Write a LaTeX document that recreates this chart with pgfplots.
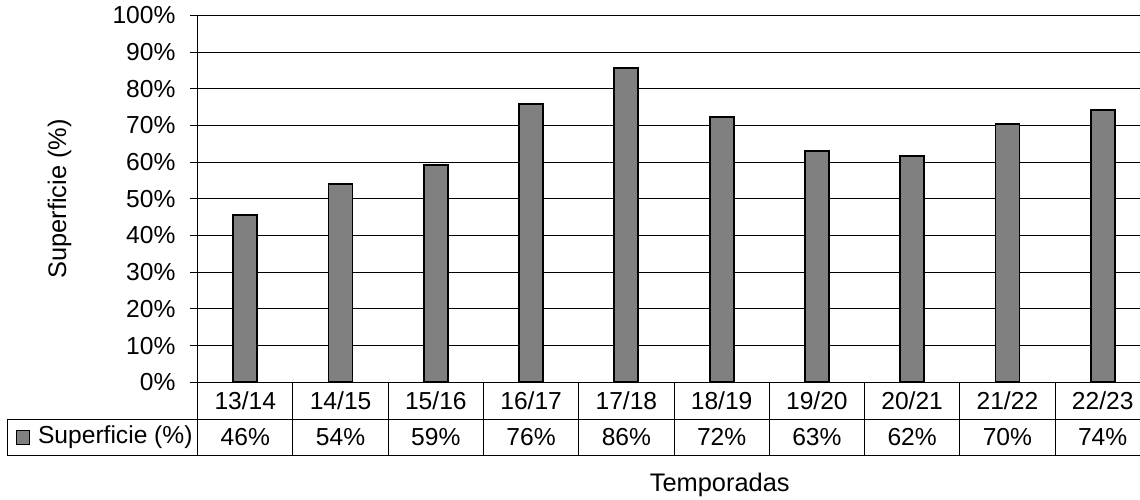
\documentclass[border=0pt]{standalone}
\usepackage{pgfplots}
\pgfplotsset{compat=1.18}
\usepackage{pgfplotstable}
\usepackage{fontspec}
\setmainfont{Liberation Sans}

\definecolor{bargray}{HTML}{808080}

% surface share per season (%), bars centred in their category cells
\pgfplotstableread{
x    v
0.5  45.6
1.5  54.0
2.5  59.2
3.5  75.9
4.5  85.7
5.5  72.2
6.5  63.1
7.5  61.75
8.5  70.3
9.5  74.2
}\superficie

\newcommand{\lblfont}{\fontsize{12.3}{14}\selectfont}
\newcommand{\ttlfont}{\fontsize{12.7}{15}\selectfont}

\begin{document}
\begin{tikzpicture}
\path[use as bounding box] (-98.85pt,-58.35pt) rectangle (471.15pt,191.15pt);
\begin{axis}[
  at={(0pt,0pt)}, anchor=south west,
  scale only axis, width=476.3pt, height=183.5pt,
  xmin=0, xmax=10, ymin=0, ymax=100,
  clip=false,
  axis lines=left,
  axis line style={-, black, line width=0.6pt},
  ytick={0,10,...,100},
  yticklabel={\pgfmathprintnumber{\tick}\%},
  /pgf/number format/assume math mode=true,
  ymajorgrids,
  grid style={black, line width=0.5pt},
  tick align=outside,
  major tick length=4pt,
  ytick style={black, line width=0.5pt},
  yticklabel style={font=\lblfont, xshift=-3.6pt},
  xtick={0.5,1.5,...,9.5},
  xticklabels={13/14,14/15,15/16,16/17,17/18,18/19,19/20,20/21,21/22,22/23},
  xtick style={draw=none},
  xticklabel style={font=\lblfont, anchor=center, yshift=-5pt},
]
% bars
\addplot[ybar, bar width=12pt, fill=bargray, draw=black, line width=0.9pt]
  table[x=x, y=v] {\superficie};

% value row of the data table
\addplot[draw=none, point meta=explicit,
  nodes near coords={\pgfmathprintnumber[fixed,precision=0]{\pgfplotspointmeta}\%},
  every node near coord/.append style={anchor=center, font=\lblfont, text=black}]
  table[x=x, y expr=-15, meta=v] {\superficie};

% data table grid
\draw[black, line width=0.5pt] (axis cs:-2,-10) -- (axis cs:10.2,-10);
\draw[black, line width=0.5pt] (axis cs:-2,-20) -- (axis cs:10.2,-20);
\draw[black, line width=0.5pt] (axis cs:-2,-10) -- (axis cs:-2,-20);
\pgfplotsinvokeforeach{0,...,10}{
  \draw[black, line width=0.5pt] (axis cs:#1,0) -- (axis cs:#1,-20);
}
% legend key inside the table
\draw[fill=bargray, draw=black, line width=0.6pt]
  (axis cs:-1.905,-13.1) rectangle (axis cs:-1.765,-16.9);
\node[anchor=west, font=\lblfont, inner sep=0pt] at (axis cs:-1.68,-15) {Superficie (\%)};

% axis titles
\node[font=\ttlfont] at (axis cs:5.48,-28) {Temporadas};
\node[font=\ttlfont, rotate=90] at (axis cs:-1.45,50) {Superficie (\%)};
\end{axis}
\end{tikzpicture}
\end{document}
